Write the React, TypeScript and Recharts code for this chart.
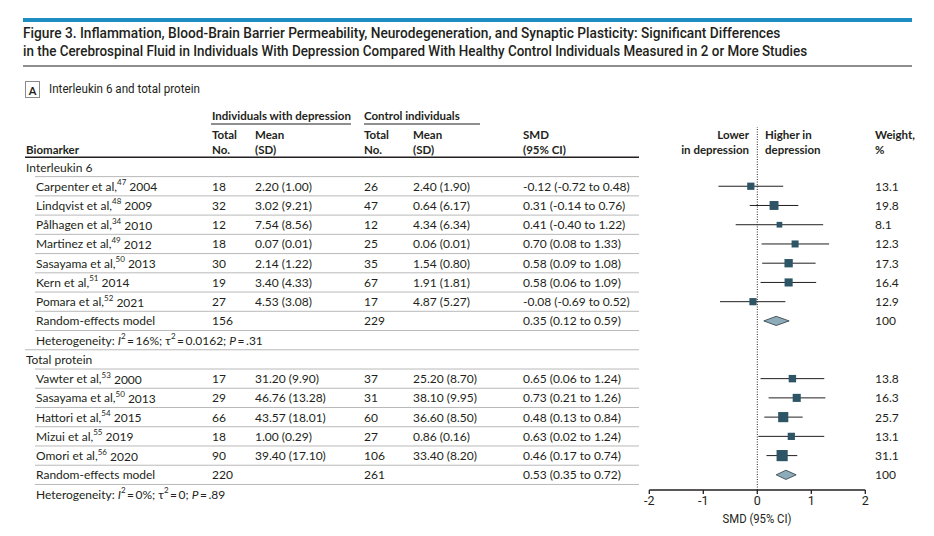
import React, { useLayoutEffect, useRef, useState } from "react";
import {
  ComposedChart,
  Scatter,
  ErrorBar,
  XAxis,
  YAxis,
  ReferenceLine,
  ReferenceArea,
} from "recharts";

// ---- data ----
const groupNames = ["Interleukin 6", "Total protein"];

const studyAuthors = [
  "Carpenter et al,",
  "Lindqvist et al,",
  "Pålhagen et al,",
  "Martinez et al,",
  "Sasayama et al,",
  "Kern et al,",
  "Pomara et al,",
  "Vawter et al,",
  "Sasayama et al,",
  "Hattori et al,",
  "Mizui et al,",
  "Omori et al,",
];
const studyRefs = ["47", "48", "34", "49", "50", "51", "52", "53", "50", "54", "55", "56"];
const studyYears = [2004, 2009, 2010, 2012, 2013, 2014, 2021, 2000, 2013, 2015, 2019, 2020];
const studyGroup = [0, 0, 0, 0, 0, 0, 0, 1, 1, 1, 1, 1];

const depN = [18, 32, 12, 18, 30, 19, 27, 17, 29, 66, 18, 90];
const depMean = [
  "2.20 (1.00)", "3.02 (9.21)", "7.54 (8.56)", "0.07 (0.01)", "2.14 (1.22)", "3.40 (4.33)",
  "4.53 (3.08)", "31.20 (9.90)", "46.76 (13.28)", "43.57 (18.01)", "1.00 (0.29)", "39.40 (17.10)",
];
const ctrlN = [26, 47, 12, 25, 35, 67, 17, 37, 31, 60, 27, 106];
const ctrlMean = [
  "2.40 (1.90)", "0.64 (6.17)", "4.34 (6.34)", "0.06 (0.01)", "1.54 (0.80)", "1.91 (1.81)",
  "4.87 (5.27)", "25.20 (8.70)", "38.10 (9.95)", "36.60 (8.50)", "0.86 (0.16)", "33.40 (8.20)",
];

const smd = [-0.12, 0.31, 0.41, 0.7, 0.58, 0.58, -0.08, 0.65, 0.73, 0.48, 0.63, 0.46];
const ciLow = [-0.72, -0.14, -0.4, 0.08, 0.09, 0.06, -0.69, 0.06, 0.21, 0.13, 0.02, 0.17];
const ciHigh = [0.48, 0.76, 1.22, 1.33, 1.08, 1.09, 0.52, 1.24, 1.26, 0.84, 1.24, 0.74];
const weight = [13.1, 19.8, 8.1, 12.3, 17.3, 16.4, 12.9, 13.8, 16.3, 25.7, 13.1, 31.1];

const pooledDepN = [156, 220];
const pooledCtrlN = [229, 261];
const pooledSmd = [0.35, 0.53];
const pooledLow = [0.12, 0.35];
const pooledHigh = [0.59, 0.72];

const hetI2 = ["16%", "0%"];
const hetTau2 = ["0.0162", "0"];
const hetP = [".31", ".89"];

const axisTicks = [-2, -1, 0, 1, 2];

// ---- layout ----
const W = 934;
const H = 536;
const ROW0 = 167;
const ROW_H = 19.24;
const PLOT_TOP = 127;
const PLOT_BOTTOM = 490;
const rowY = (i: number) => ROW0 + i * ROW_H;

const BODY_FONT = "Lato, 'Noto Sans', sans-serif";
const NARROW_FONT = "Roboto, 'DejaVu Sans Condensed', sans-serif";
const INK = "#231f20";
const THIN = "\u2009";

type Row =
  | { kind: "group"; g: number }
  | { kind: "study"; s: number }
  | { kind: "pooled"; g: number }
  | { kind: "het"; g: number };

const rows: Row[] = [];
groupNames.forEach((_, g) => {
  rows.push({ kind: "group", g });
  studyAuthors.forEach((__, s) => {
    if (studyGroup[s] === g) rows.push({ kind: "study", s });
  });
  rows.push({ kind: "pooled", g });
  rows.push({ kind: "het", g });
});

const fmt = (v: number) => v.toFixed(2);
const ciText = (m: number, lo: number, hi: number) => `${fmt(m)} (${fmt(lo)} to ${fmt(hi)})`;

const studyPoints = rows.flatMap((r, i) =>
  r.kind === "study"
    ? [{ x: smd[r.s], y: i, err: [smd[r.s] - ciLow[r.s], ciHigh[r.s] - smd[r.s]], w: weight[r.s] }]
    : []
);
const pooledRows = rows.flatMap((r, i) => (r.kind === "pooled" ? [{ g: r.g, y: i }] : []));

const Square = (props: any) => {
  const { cx, cy, payload } = props;
  const side = 2 * Math.sqrt(payload.w);
  return <rect x={cx - side / 2} y={cy - side / 2} width={side} height={side} fill="#2e5565" />;
};

const diamond = (est: number, lo: number, hi: number) => (props: any) => {
  const { x, y, width, height } = props;
  const cx = x + (width * (est - lo)) / (hi - lo);
  const cy = y + height / 2;
  const pts = `${x},${cy} ${cx},${y} ${x + width},${cy} ${cx},${y + height}`;
  return <polygon points={pts} fill="#8eabb9" stroke="#2a3a40" strokeWidth={0.8} />;
};

function Sup({ children }: { children: React.ReactNode }) {
  return (
    <tspan fontSize={8} dy={-4}>
      {children}
    </tspan>
  );
}

// condensed text: squeezes a wider installed font to the width seen in the figure
function FitText({ x, y, width, children, ...rest }: any) {
  const ref = useRef<SVGTextElement>(null);
  const [sx, setSx] = useState(1);
  useLayoutEffect(() => {
    const el = ref.current;
    if (!el) return;
    const w = el.getComputedTextLength();
    if (w > 0) setSx(Math.min(1, width / w));
  }, [width]);
  return (
    <text ref={ref} transform={`translate(${x},${y}) scale(${sx},1)`} dominantBaseline="central" {...rest}>
      {children}
    </text>
  );
}

function TableText() {
  const t = (x: number, y: number, s: React.ReactNode, extra: any = {}) => (
    <text x={x} y={y} dominantBaseline="central" {...extra}>
      {s}
    </text>
  );
  const hb = { fontWeight: 700, fontSize: 11.5 };
  return (
    <svg
      width={W}
      height={H}
      style={{ position: "absolute", left: 0, top: 0, pointerEvents: "none" }}
      fontFamily={BODY_FONT}
      fontSize={12}
      fill={INK}
    >
      {/* title block */}
      <rect x={23} y={18} width={889} height={4} fill="#1d8cc0" />
      <FitText x={23} y={33} width={758} fontFamily={NARROW_FONT} fontWeight={500} fontSize={15}>
        Figure 3. Inflammation, Blood-Brain Barrier Permeability, Neurodegeneration, and Synaptic Plasticity: Significant Differences
      </FitText>
      <FitText x={23} y={51} width={785} fontFamily={NARROW_FONT} fontWeight={500} fontSize={15}>
        in the Cerebrospinal Fluid in Individuals With Depression Compared With Healthy Control Individuals Measured in 2 or More Studies
      </FitText>
      <line x1={23} x2={912} y1={66} y2={66} stroke={INK} strokeWidth={1.2} />

      <rect x={25.5} y={81.5} width={14} height={16} fill="none" stroke="#8a8a8a" />
      {t(32.5, 90, "A", { textAnchor: "middle", fontWeight: 700, fontSize: 11 })}
      <FitText x={49} y={89} width={151} fontFamily={NARROW_FONT} fontSize={13}>
        Interleukin 6 and total protein
      </FitText>

      {/* column headers */}
      {t(212, 115, "Individuals with depression", hb)}
      <line x1={211} x2={351} y1={124} y2={124} stroke={INK} strokeWidth={1} />
      {t(364, 115, "Control individuals", hb)}
      <line x1={364} x2={480} y1={124} y2={124} stroke={INK} strokeWidth={1} />
      {t(26, 149, "Biomarker", hb)}
      {t(212, 134, "Total", hb)}
      {t(212, 149, "No.", hb)}
      {t(255, 134, "Mean", hb)}
      {t(255, 149, "(SD)", hb)}
      {t(364, 134, "Total", hb)}
      {t(364, 149, "No.", hb)}
      {t(413, 134, "Mean", hb)}
      {t(413, 149, "(SD)", hb)}
      {t(523, 134, "SMD", hb)}
      {t(523, 149, "(95% CI)", hb)}
      {t(749, 134, "Lower", { ...hb, textAnchor: "end" })}
      {t(749, 149, "in depression", { ...hb, textAnchor: "end" })}
      {t(765, 134, "Higher in", hb)}
      {t(765, 149, "depression", hb)}
      {t(875, 134, "Weight,", hb)}
      {t(875, 149, "%", hb)}
      <line x1={25} x2={639} y1={157.3} y2={157.3} stroke={INK} strokeWidth={1.4} />

      {/* row separators */}
      {rows.slice(0, -1).map((r, i) => (
        <line
          key={`sep${i}`}
          x1={rows[i + 1].kind === "group" ? 25 : 35}
          x2={639}
          y1={rowY(i + 0.5)}
          y2={rowY(i + 0.5)}
          stroke="#b9b9b9"
          strokeWidth={1}
        />
      ))}

      {/* rows */}
      {rows.map((r, i) => {
        const y = rowY(i);
        if (r.kind === "group") return <g key={i}>{t(26, y, groupNames[r.g])}</g>;
        if (r.kind === "study") {
          const s = r.s;
          return (
            <g key={i}>
              <text x={36} y={y} dominantBaseline="central">
                {studyAuthors[s]}
                <Sup>{studyRefs[s]}</Sup>
                <tspan dy={4}>{` ${studyYears[s]}`}</tspan>
              </text>
              {t(212, y, depN[s])}
              {t(255, y, depMean[s])}
              {t(364, y, ctrlN[s])}
              {t(413, y, ctrlMean[s])}
              {t(523, y, ciText(smd[s], ciLow[s], ciHigh[s]))}
              {t(875, y, weight[s].toFixed(1))}
            </g>
          );
        }
        if (r.kind === "pooled") {
          const g = r.g;
          return (
            <g key={i}>
              {t(36, y, "Random-effects model")}
              {t(212, y, pooledDepN[g])}
              {t(364, y, pooledCtrlN[g])}
              {t(523, y, ciText(pooledSmd[g], pooledLow[g], pooledHigh[g]))}
              {t(875, y, "100")}
            </g>
          );
        }
        const g = r.g;
        return (
          <text key={i} x={36} y={y} dominantBaseline="central">
            {"Heterogeneity: "}
            <tspan fontStyle="italic">I</tspan>
            <Sup>2</Sup>
            <tspan dy={4}>{`${THIN}=${THIN}${hetI2[g]}; τ`}</tspan>
            <Sup>2</Sup>
            <tspan dy={4}>{`${THIN}=${THIN}${hetTau2[g]}; `}</tspan>
            <tspan fontStyle="italic">P</tspan>
            <tspan>{`${THIN}=${THIN}${hetP[g]}`}</tspan>
          </text>
        );
      })}

      <FitText x={757} y={519} width={69} textAnchor="middle" fontFamily={NARROW_FONT} fontSize={12.5}>
        SMD (95% CI)
      </FitText>
    </svg>
  );
}

export default function App() {
  const yDomain = [(PLOT_TOP - ROW0) / ROW_H, (PLOT_BOTTOM - ROW0) / ROW_H];
  const xAxisH = 30;
  return (
    <div style={{ position: "absolute", left: 0, top: 0, width: W, height: H, background: "#fff" }}>
      <ComposedChart
        width={W}
        height={H}
        margin={{ top: PLOT_TOP, right: W - 865.3, bottom: H - PLOT_BOTTOM - xAxisH, left: 649.3 }}
        style={{ position: "absolute", left: 0, top: 0 }}
      >
        <XAxis
          type="number"
          dataKey="x"
          domain={[-2, 2]}
          ticks={axisTicks}
          allowDataOverflow
          height={xAxisH}
          tickSize={4}
          tickMargin={2}
          axisLine={{ stroke: INK, strokeWidth: 1.3 }}
          tickLine={{ stroke: INK, strokeWidth: 1.3 }}
          tick={{ fill: INK, fontSize: 12.5, fontFamily: NARROW_FONT }}
        />
        <YAxis type="number" dataKey="y" domain={yDomain} reversed hide width={0} allowDataOverflow />
        <ReferenceLine x={0} stroke={INK} strokeWidth={1} strokeDasharray="1 1.5" />
        {pooledRows.map((p) => (
          <ReferenceArea
            key={`d${p.g}`}
            x1={pooledLow[p.g]}
            x2={pooledHigh[p.g]}
            y1={p.y - 0.24}
            y2={p.y + 0.24}
            shape={diamond(pooledSmd[p.g], pooledLow[p.g], pooledHigh[p.g])}
          />
        ))}
        <Scatter data={studyPoints} dataKey="y" shape={Square} isAnimationActive={false}>
          <ErrorBar dataKey="err" direction="x" width={0} stroke={INK} strokeWidth={1} isAnimationActive={false} />
        </Scatter>
      </ComposedChart>
      <TableText />
    </div>
  );
}
